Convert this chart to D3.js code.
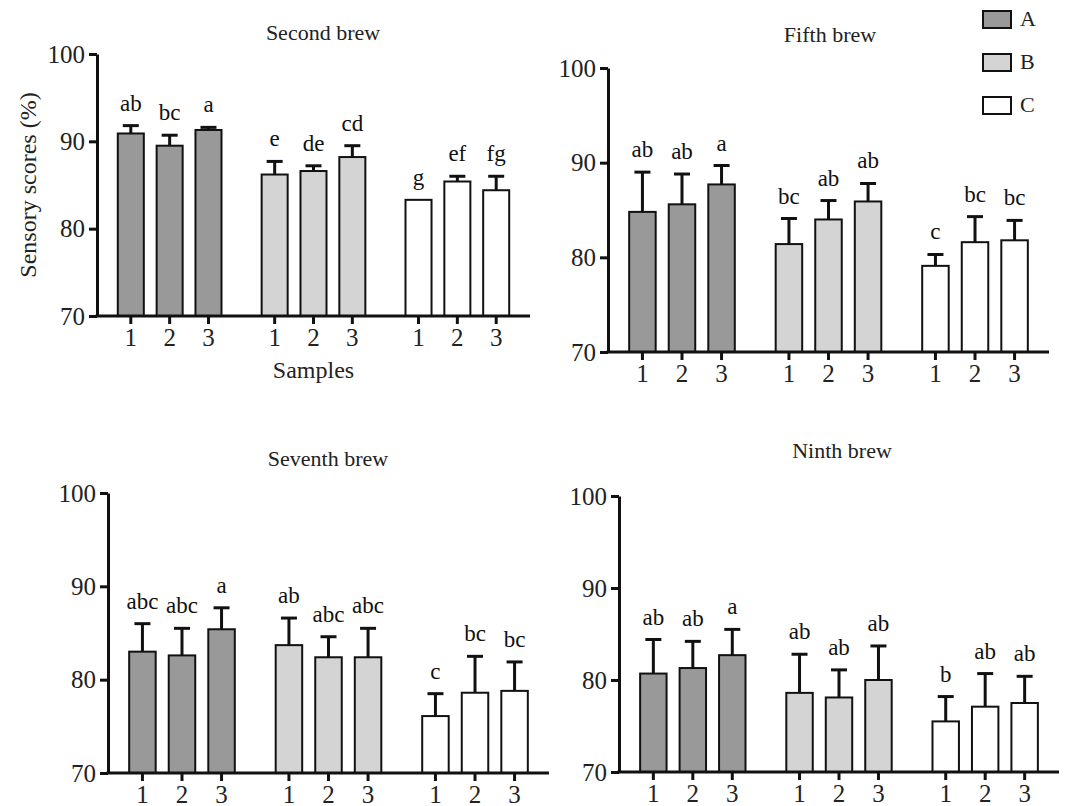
<!DOCTYPE html>
<html>
<head>
<meta charset="utf-8">
<script src="https://cdn.jsdelivr.net/npm/d3@7"></script>
<style>
  body { margin: 0; background: #fff; }
  svg { display: block; font-family: 'Liberation Serif', 'Times New Roman', serif; }
</style>
</head>
<body>
<script>
const groups = ['A', 'B', 'C'];
const samples = ['1', '2', '3'];
const yTicks = [70, 80, 90, 100];
const brewTitles = ['Second brew', 'Fifth brew', 'Seventh brew', 'Ninth brew'];

// means, in order A1 A2 A3 B1 B2 B3 C1 C2 C3
const secondMean = [90.9, 89.5, 91.3, 86.2, 86.6, 88.2, 83.3, 85.4, 84.4];
const secondErr = [0.9, 1.2, 0.3, 1.5, 0.6, 1.3, 0, 0.6, 1.6];
const secondLetters = ['ab', 'bc', 'a', 'e', 'de', 'cd', 'g', 'ef', 'fg'];

const fifthMean = [84.8, 85.6, 87.7, 81.4, 84.0, 85.9, 79.1, 81.6, 81.8];
const fifthErr = [4.2, 3.2, 2.0, 2.7, 2.0, 1.9, 1.2, 2.7, 2.1];
const fifthLetters = ['ab', 'ab', 'a', 'bc', 'ab', 'ab', 'c', 'bc', 'bc'];

const seventhMean = [83.0, 82.6, 85.4, 83.7, 82.4, 82.4, 76.1, 78.6, 78.8];
const seventhErr = [3.0, 2.9, 2.3, 2.9, 2.2, 3.1, 2.4, 3.9, 3.1];
const seventhLetters = ['abc', 'abc', 'a', 'ab', 'abc', 'abc', 'c', 'bc', 'bc'];

const ninthMean = [80.7, 81.3, 82.7, 78.6, 78.1, 80.0, 75.5, 77.1, 77.5];
const ninthErr = [3.7, 2.9, 2.8, 4.2, 3.0, 3.7, 2.7, 3.6, 2.9];
const ninthLetters = ['ab', 'ab', 'a', 'ab', 'ab', 'ab', 'b', 'ab', 'ab'];

const FILL = { A: '#999999', B: '#d4d4d4', C: '#ffffff' };
const INK = '#111';

// panel frames (pixels)
const LAYOUT = [
  { x0: 97, x1: 530, y0: 54, y1: 316, tx: 323, ty: 40 },
  { x0: 608, x1: 1049, y0: 68, y1: 352, tx: 830, ty: 42 },
  { x0: 108, x1: 549, y0: 493, y1: 773, tx: 328, ty: 466 },
  { x0: 619, x1: 1059, y0: 496, y1: 772, tx: 842, ty: 458 },
];

const brews = [
  [secondMean, secondErr, secondLetters],
  [fifthMean, fifthErr, fifthLetters],
  [seventhMean, seventhErr, seventhLetters],
  [ninthMean, ninthErr, ninthLetters],
];

const svg = d3.select('body').append('svg').attr('width', 1067).attr('height', 806);

brews.forEach(([means, errs, letters], p) => {
  const L = LAYOUT[p];
  const rows = means.map((m, i) => ({
    group: groups[Math.floor(i / 3)],
    sample: samples[i % 3],
    mean: m,
    err: errs[i],
    letter: letters[i],
  }));

  const y = d3.scaleLinear().domain([70, 100]).range([L.y1, L.y0]);
  const outer = d3.scaleBand().domain(groups).range([L.x0, L.x1])
    .paddingInner(0.19).paddingOuter(0.1);
  const inner = d3.scaleBand().domain(samples).range([0, outer.bandwidth()])
    .paddingInner(0.33).paddingOuter(0.165);
  const cx = (d) => outer(d.group) + inner(d.sample) + inner.bandwidth() / 2;

  const g = svg.append('g');

  // bars
  g.selectAll('rect.bar')
    .data(rows)
    .join('rect')
    .attr('class', 'bar')
    .attr('x', (d) => outer(d.group) + inner(d.sample))
    .attr('width', inner.bandwidth())
    .attr('y', (d) => y(d.mean))
    .attr('height', (d) => y(70) - y(d.mean))
    .attr('fill', (d) => FILL[d.group])
    .attr('stroke', INK)
    .attr('stroke-width', 2);

  // error bars (upper half only)
  const eb = g.selectAll('g.err')
    .data(rows.filter((d) => d.err > 0))
    .join('g')
    .attr('class', 'err');
  eb.append('line')
    .attr('x1', cx).attr('x2', cx)
    .attr('y1', (d) => y(d.mean)).attr('y2', (d) => y(d.mean + d.err))
    .attr('stroke', INK).attr('stroke-width', 3);
  eb.append('line')
    .attr('x1', (d) => cx(d) - 8).attr('x2', (d) => cx(d) + 8)
    .attr('y1', (d) => y(d.mean + d.err)).attr('y2', (d) => y(d.mean + d.err))
    .attr('stroke', INK).attr('stroke-width', 3);

  // significance letters
  g.selectAll('text.letter')
    .data(rows)
    .join('text')
    .attr('class', 'letter')
    .attr('x', cx)
    .attr('y', (d) => y(d.mean + d.err) - 15)
    .attr('text-anchor', 'middle')
    .attr('font-size', 23)
    .attr('fill', INK)
    .text((d) => d.letter);

  // y axis
  const ya = g.append('g')
    .attr('transform', `translate(${L.x0},0)`)
    .call(d3.axisLeft(y).tickValues(yTicks).tickSize(8).tickSizeOuter(0).tickPadding(4));
  ya.select('.domain').attr('stroke', INK).attr('stroke-width', 3);
  ya.selectAll('.tick line').attr('stroke', INK).attr('stroke-width', 3);
  ya.selectAll('.tick text')
    .attr('font-family', "'Liberation Serif', serif")
    .attr('font-size', 25).attr('fill', '#222');

  // x baseline
  g.append('line')
    .attr('x1', L.x0 - 1.5).attr('x2', L.x1)
    .attr('y1', L.y1).attr('y2', L.y1)
    .attr('stroke', INK).attr('stroke-width', 3);

  // x ticks, one small axis per group
  groups.forEach((grp) => {
    const xa = g.append('g')
      .attr('transform', `translate(${outer(grp)},${L.y1})`)
      .call(d3.axisBottom(inner).tickSize(8).tickSizeOuter(0).tickPadding(4));
    xa.select('.domain').remove();
    xa.selectAll('.tick line').attr('stroke', INK).attr('stroke-width', 3);
    xa.selectAll('.tick text')
      .attr('font-family', "'Liberation Serif', serif")
      .attr('font-size', 25).attr('fill', '#222');
  });

  // title
  g.append('text')
    .attr('x', L.tx).attr('y', L.ty)
    .attr('text-anchor', 'middle')
    .attr('font-size', 22)
    .attr('fill', '#222')
    .text(brewTitles[p]);

  if (p === 0) {
    g.append('text')
      .attr('transform', `translate(36,${(L.y0 + L.y1) / 2}) rotate(-90)`)
      .attr('text-anchor', 'middle')
      .attr('font-size', 24)
      .attr('fill', '#222')
      .text('Sensory scores (%)');
    g.append('text')
      .attr('x', (L.x0 + L.x1) / 2).attr('y', 378)
      .attr('text-anchor', 'middle')
      .attr('font-size', 24)
      .attr('fill', '#222')
      .text('Samples');
  }
});

// legend
const legend = svg.append('g').attr('transform', 'translate(983,11)');
const item = legend.selectAll('g')
  .data(groups)
  .join('g')
  .attr('transform', (d, i) => `translate(0,${i * 43})`);
item.append('rect')
  .attr('width', 28).attr('height', 17)
  .attr('fill', (d) => FILL[d])
  .attr('stroke', INK).attr('stroke-width', 2);
item.append('text')
  .attr('x', 37).attr('y', 15)
  .attr('font-size', 22)
  .attr('fill', '#222')
  .text((d) => d);
</script>
</body>
</html>
